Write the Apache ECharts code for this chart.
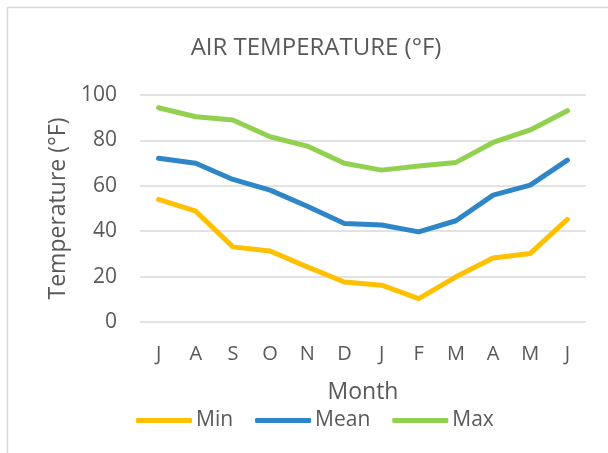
<!DOCTYPE html>
<html>
<head>
<meta charset="utf-8">
<script src="https://cdn.jsdelivr.net/npm/echarts@6/dist/echarts.min.js"></script>
<style>
  html, body { margin: 0; padding: 0; background: #fff; }
  #chart { width: 608px; height: 453px; }
</style>
</head>
<body>
<div id="chart"></div>
<script>
const months = ["J", "A", "S", "O", "N", "D", "J", "F", "M", "A", "M", "J"];
const minTemp = [54.0, 48.8, 33.1, 31.3, 24.3, 17.6, 16.2, 10.3, 19.9, 28.2, 30.2, 45.2];
const meanTemp = [72.1, 69.9, 62.8, 58.1, 51.0, 43.4, 42.7, 39.7, 44.6, 55.9, 60.3, 71.3];
const maxTemp = [94.4, 90.4, 89.0, 81.6, 77.5, 69.9, 66.9, 68.7, 70.3, 79.1, 84.6, 93.1];
const yTicks = { min: 0, max: 100, interval: 20 };

const textColor = "#595959";
const font = "'Open Sans', 'Liberation Sans', sans-serif";

const chart = echarts.init(document.getElementById("chart"));

const mkSeries = (name, data, color) => ({
  name: name,
  type: "line",
  data: data,
  symbol: "none",
  smooth: false,
  lineStyle: { width: 5, color: color, cap: "round", join: "round" },
  itemStyle: { color: color },
});

chart.setOption({
  animation: false,
  graphic: [{
    type: "rect",
    shape: { x: 7.5, y: 7.5, width: 620, height: 470 },
    style: { fill: "none", stroke: "#d9d9d9", lineWidth: 1.5 },
    silent: true,
  }],
  title: {
    text: "AIR TEMPERATURE (°F)",
    left: 311,
    textAlign: "center",
    top: 31,
    textStyle: { color: textColor, fontSize: 24, fontWeight: "normal", fontFamily: font },
  },
  legend: {
    left: 136,
    top: 410,
    padding: 0,
    itemWidth: 56,
    itemHeight: 5,
    itemGap: 22,
    icon: "roundRect",
    textStyle: { color: textColor, fontSize: 21, fontFamily: font, padding: [0, 0, 0, -1] },
    data: ["Min", "Mean", "Max"],
  },
  grid: { left: 140, right: 22, top: 95, bottom: 131, containLabel: false },
  xAxis: {
    type: "category",
    data: months,
    boundaryGap: true,
    name: "Month",
    nameLocation: "middle",
    nameGap: 59,
    nameTextStyle: { color: textColor, fontSize: 23, fontFamily: font },
    axisLine: { show: false },
    axisTick: { show: false },
    axisLabel: { color: textColor, fontSize: 20, fontFamily: font, margin: 22 },
  },
  yAxis: {
    type: "value",
    min: yTicks.min,
    max: yTicks.max,
    interval: yTicks.interval,
    name: "Temperature (°F)",
    nameLocation: "middle",
    nameGap: 70,
    nameTextStyle: { color: textColor, fontSize: 23, fontFamily: font },
    axisLine: { show: false },
    axisTick: { show: false },
    axisLabel: { color: textColor, fontSize: 21, fontFamily: font, margin: 23 },
    splitLine: { lineStyle: { color: "#d9d9d9", width: 1.5 } },
  },
  series: [
    mkSeries("Min", minTemp, "#FFC000"),
    mkSeries("Mean", meanTemp, "#2E86C8"),
    mkSeries("Max", maxTemp, "#92D050"),
  ],
});
</script>
</body>
</html>
